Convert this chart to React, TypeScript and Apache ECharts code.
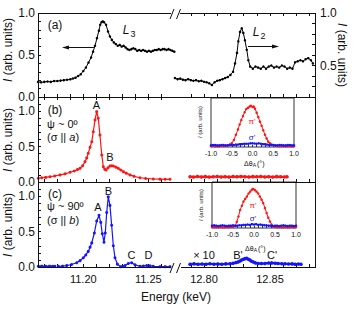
import React, { useEffect, useRef } from "react";
import * as echarts from "echarts";

const FONT = "'Liberation Sans', Arial, Helvetica, sans-serif";
const RED = "#ff1414";
const BLUE = "#1414ff";
const INK = "#111";

// ---- data: [energy (keV), intensity] ----
const aL3: [number, number][] = [
  [11.1652, 0.18], [11.1675, 0.175], [11.17, 0.18], [11.1725, 0.185], [11.175, 0.18], [11.1775, 0.19],
  [11.18, 0.19], [11.1825, 0.195], [11.185, 0.2], [11.1875, 0.205], [11.19, 0.21], [11.192, 0.22],
  [11.194, 0.23], [11.196, 0.25], [11.198, 0.27], [11.2, 0.31], [11.202, 0.35], [11.204, 0.41],
  [11.206, 0.47], [11.2075, 0.54], [11.209, 0.61], [11.2105, 0.7], [11.212, 0.79], [11.213, 0.86],
  [11.214, 0.89], [11.215, 0.9], [11.216, 0.89], [11.2175, 0.86], [11.219, 0.78], [11.2205, 0.72],
  [11.222, 0.68], [11.2235, 0.65], [11.225, 0.63], [11.2265, 0.61], [11.228, 0.62], [11.2295, 0.6],
  [11.231, 0.61], [11.2325, 0.59], [11.234, 0.57], [11.2355, 0.56], [11.237, 0.57], [11.2385, 0.58],
  [11.24, 0.57], [11.2415, 0.55], [11.243, 0.56], [11.2445, 0.55], [11.246, 0.56], [11.2475, 0.55],
  [11.249, 0.54], [11.2505, 0.55], [11.252, 0.54], [11.2535, 0.55], [11.255, 0.56], [11.2565, 0.56],
  [11.258, 0.57], [11.2595, 0.56], [11.261, 0.57], [11.2625, 0.57], [11.264, 0.56], [11.2655, 0.57],
  [11.267, 0.56], [11.2685, 0.55], [11.27, 0.54],
];
const aL2: [number, number][] = [
  [12.778, 0.38], [12.78, 0.37], [12.782, 0.375], [12.784, 0.365], [12.786, 0.36], [12.788, 0.37],
  [12.79, 0.36], [12.792, 0.355], [12.794, 0.36], [12.796, 0.35], [12.798, 0.355], [12.8, 0.345],
  [12.802, 0.34], [12.804, 0.33], [12.806, 0.315], [12.808, 0.34], [12.81, 0.355], [12.812, 0.36],
  [12.814, 0.37], [12.816, 0.38], [12.818, 0.39], [12.82, 0.41], [12.822, 0.44], [12.8235, 0.52],
  [12.825, 0.62], [12.826, 0.73], [12.8273, 0.82], [12.8286, 0.855], [12.8298, 0.81], [12.831, 0.74],
  [12.8324, 0.65], [12.8336, 0.55], [12.835, 0.49], [12.837, 0.47], [12.839, 0.49], [12.841, 0.48],
  [12.843, 0.47], [12.845, 0.49], [12.847, 0.47], [12.849, 0.49], [12.851, 0.5], [12.853, 0.48],
  [12.855, 0.49], [12.857, 0.48], [12.859, 0.5], [12.861, 0.49], [12.863, 0.47], [12.865, 0.48],
  [12.867, 0.47], [12.869, 0.53], [12.871, 0.54], [12.873, 0.55], [12.875, 0.54], [12.877, 0.56],
  [12.879, 0.57], [12.881, 0.55], [12.8825, 0.52],
];
const bLeft: [number, number][] = [
  [11.1654, 0.052], [11.168, 0.06], [11.171, 0.065], [11.1744, 0.075], [11.178, 0.085], [11.1821, 0.1],
  [11.186, 0.115], [11.1898, 0.137], [11.193, 0.155], [11.1955, 0.175], [11.1975, 0.193], [11.1995, 0.23],
  [11.2013, 0.287], [11.2026, 0.34], [11.2038, 0.405], [11.2052, 0.49], [11.2065, 0.569], [11.2077, 0.71],
  [11.209, 0.876], [11.2103, 0.993], [11.2115, 0.9], [11.2128, 0.664], [11.2142, 0.381], [11.2154, 0.216],
  [11.2165, 0.18], [11.2175, 0.17], [11.219, 0.2], [11.2205, 0.226], [11.2218, 0.23], [11.2231, 0.226],
  [11.225, 0.21], [11.2269, 0.193], [11.2288, 0.17], [11.2308, 0.146], [11.233, 0.125], [11.2359, 0.1],
  [11.239, 0.08], [11.2436, 0.06], [11.248, 0.05], [11.2538, 0.042], [11.259, 0.04], [11.263, 0.038],
  [11.2667, 0.038],
];
const bRight: [number, number][] = [
  [12.7894, 0.075], [12.792, 0.07], [12.795, 0.078], [12.798, 0.072], [12.801, 0.076], [12.804, 0.07],
  [12.807, 0.074], [12.81, 0.078], [12.813, 0.072], [12.816, 0.075], [12.819, 0.07], [12.822, 0.077],
  [12.825, 0.073], [12.828, 0.079], [12.831, 0.074], [12.834, 0.071], [12.837, 0.076], [12.84, 0.073],
  [12.843, 0.078], [12.846, 0.072], [12.849, 0.075], [12.852, 0.07], [12.855, 0.076], [12.858, 0.073],
  [12.861, 0.071], [12.8629, 0.074],
];
const cLeftPre: [number, number][] = [
  [11.1654, 0.01], [11.168, 0.012], [11.171, 0.01], [11.174, 0.012], [11.1765, 0.01], [11.1782, 0.01],
];
const cLeft: [number, number][] = [
  [11.1808, 0.01], [11.184, 0.012], [11.1872, 0.02], [11.191, 0.035], [11.1949, 0.06], [11.1975, 0.09],
  [11.2, 0.13], [11.2019, 0.17], [11.2038, 0.22], [11.2052, 0.28], [11.2065, 0.34], [11.2085, 0.48],
  [11.2103, 0.65], [11.2121, 0.73], [11.2134, 0.63], [11.2146, 0.47], [11.2159, 0.35], [11.2169, 0.48],
  [11.218, 0.77], [11.2192, 0.99], [11.2205, 0.87], [11.2218, 0.59], [11.2231, 0.3], [11.2244, 0.13],
  [11.2262, 0.04], [11.2288, 0.005], [11.2305, 0.01], [11.2321, 0.02], [11.2346, 0.05], [11.2372, 0.06],
  [11.2398, 0.03], [11.2436, 0.01], [11.2462, 0.015], [11.2488, 0.02], [11.2513, 0.018], [11.2538, 0.01],
  [11.259, 0.005], [11.263, 0.005], [11.2667, 0.005],
];
const cRight: [number, number][] = [
  [12.7894, 0.04], [12.7925, 0.045], [12.7955, 0.038], [12.7985, 0.042], [12.8015, 0.04], [12.8045, 0.046],
  [12.8075, 0.04], [12.8105, 0.043], [12.8135, 0.039], [12.8165, 0.044], [12.8197, 0.046], [12.822, 0.052],
  [12.8242, 0.062], [12.8258, 0.072], [12.8273, 0.085], [12.8285, 0.098], [12.8298, 0.11], [12.831, 0.118],
  [12.8323, 0.122], [12.8336, 0.11], [12.8348, 0.098], [12.836, 0.082], [12.8373, 0.07], [12.839, 0.058],
  [12.8409, 0.05], [12.8435, 0.048], [12.8462, 0.05], [12.849, 0.055], [12.8513, 0.058], [12.854, 0.054],
  [12.8561, 0.05], [12.859, 0.046], [12.8614, 0.045], [12.864, 0.042], [12.8667, 0.044], [12.869, 0.04],
  [12.8715, 0.042], [12.8735, 0.04],
];
// ---- inset data: [Δθ_A (deg), intensity] ----
const insBPi: [number, number][] = [
  [-1.0, 0.02], [-0.95, 0.03], [-0.9, 0.02], [-0.85, 0.025], [-0.8, 0.02], [-0.75, 0.03], [-0.7, 0.025],
  [-0.65, 0.03], [-0.6, 0.04], [-0.55, 0.06], [-0.5, 0.09], [-0.45, 0.17], [-0.4, 0.3], [-0.35, 0.43],
  [-0.31, 0.55], [-0.27, 0.66], [-0.23, 0.76], [-0.19, 0.85], [-0.15, 0.93], [-0.11, 0.96], [-0.07, 0.99],
  [-0.04, 1.01], [0.0, 0.98], [0.03, 0.99], [0.06, 0.94], [0.1, 0.84], [0.14, 0.73], [0.18, 0.62],
  [0.22, 0.52], [0.26, 0.41], [0.3, 0.3], [0.34, 0.21], [0.38, 0.13], [0.42, 0.09], [0.46, 0.06],
  [0.5, 0.05], [0.55, 0.04], [0.6, 0.03], [0.65, 0.025], [0.7, 0.02], [0.75, 0.025], [0.8, 0.02],
  [0.85, 0.02], [0.9, 0.025], [0.95, 0.02], [1.0, 0.02],
];
const insBSigma: [number, number][] = [
  [-1.0, 0.04], [-0.95, 0.05], [-0.9, 0.05], [-0.85, 0.04], [-0.8, 0.04], [-0.75, 0.05], [-0.7, 0.05],
  [-0.65, 0.04], [-0.6, 0.04], [-0.55, 0.05], [-0.5, 0.05], [-0.45, 0.05], [-0.4, 0.06], [-0.35, 0.06],
  [-0.3, 0.07], [-0.25, 0.07], [-0.2, 0.08], [-0.15, 0.08], [-0.1, 0.08], [-0.05, 0.09], [0.0, 0.09],
  [0.05, 0.085], [0.1, 0.08], [0.15, 0.09], [0.2, 0.08], [0.25, 0.07], [0.3, 0.07], [0.35, 0.06],
  [0.4, 0.05], [0.45, 0.05], [0.5, 0.05], [0.55, 0.04], [0.6, 0.04], [0.65, 0.05], [0.7, 0.05],
  [0.75, 0.04], [0.8, 0.04], [0.85, 0.05], [0.9, 0.05], [0.95, 0.04], [1.0, 0.04],
];
const insCPi: [number, number][] = [
  [-1.0, 0.02], [-0.95, 0.025], [-0.9, 0.02], [-0.85, 0.02], [-0.8, 0.025], [-0.75, 0.02], [-0.7, 0.02],
  [-0.65, 0.025], [-0.6, 0.02], [-0.55, 0.03], [-0.5, 0.03], [-0.45, 0.05], [-0.41, 0.16], [-0.37, 0.3],
  [-0.33, 0.47], [-0.29, 0.58], [-0.25, 0.69], [-0.21, 0.76], [-0.17, 0.82], [-0.13, 0.9], [-0.09, 0.95],
  [-0.05, 1.0], [-0.02, 1.02], [0.02, 0.99], [0.06, 0.95], [0.1, 0.9], [0.14, 0.82], [0.18, 0.74],
  [0.22, 0.65], [0.26, 0.52], [0.3, 0.39], [0.34, 0.27], [0.38, 0.17], [0.42, 0.09], [0.46, 0.04],
  [0.5, 0.03], [0.55, 0.02], [0.6, 0.025], [0.65, 0.02], [0.7, 0.02], [0.75, 0.025], [0.8, 0.02],
  [0.85, 0.02], [0.9, 0.025], [0.95, 0.02], [1.0, 0.02],
];
const insCSigma: [number, number][] = [
  [-1.0, 0.06], [-0.95, 0.07], [-0.9, 0.06], [-0.85, 0.05], [-0.8, 0.06], [-0.75, 0.07], [-0.7, 0.06],
  [-0.65, 0.05], [-0.6, 0.06], [-0.55, 0.06], [-0.5, 0.07], [-0.45, 0.06], [-0.4, 0.06], [-0.35, 0.07],
  [-0.3, 0.07], [-0.25, 0.08], [-0.2, 0.08], [-0.15, 0.09], [-0.1, 0.08], [-0.05, 0.1], [0.0, 0.09],
  [0.05, 0.1], [0.1, 0.08], [0.15, 0.09], [0.2, 0.08], [0.25, 0.07], [0.3, 0.07], [0.35, 0.06],
  [0.4, 0.06], [0.45, 0.05], [0.5, 0.06], [0.55, 0.06], [0.6, 0.05], [0.65, 0.06], [0.7, 0.07],
  [0.75, 0.06], [0.8, 0.05], [0.85, 0.06], [0.9, 0.06], [0.95, 0.05], [1.0, 0.06],
];

// ---- ticks / labels ----
const leftTicks = [11.17, 11.18, 11.19, 11.2, 11.21, 11.22, 11.23, 11.24, 11.25, 11.26];
const rightTicks = [12.79, 12.8, 12.81, 12.82, 12.83, 12.84, 12.85, 12.86, 12.87, 12.88];
const leftLabels = [11.2, 11.25];
const rightLabels = [12.8, 12.85];
const yTicksA = [0.1, 0.2, 0.3, 0.4, 0.5, 0.6, 0.7, 0.8, 0.9];
const yTicksBC = [0.1, 0.2, 0.3, 0.4, 0.5, 0.6, 0.7, 0.8, 0.9, 1.0, 1.1];
const yLabels = [0, 0.5, 1.0];
const yTicksARight = [0.3, 0.4, 0.5, 0.6, 0.7, 0.8, 0.9];
const yLabelsARight = [0.5, 1.0];
const insTicks = [-0.9, -0.8, -0.7, -0.6, -0.5, -0.4, -0.3, -0.2, -0.1, 0, 0.1, 0.2, 0.3, 0.4, 0.5, 0.6, 0.7, 0.8, 0.9];
const insLabels = [-1, -0.5, 0, 0.5, 1];

// ---- layout ----
const X0 = 38, X1 = 315;
const LW = 139, RX = 174, RW = 141;
const LMIN = 11.16515, LMAX = 11.16515 + 139 / 1300;
const RMIN = 12.777273, RMAX = 12.884091;
const ROWS = [
  { top: 13, h: 84 },
  { top: 97, h: 85 },
  { top: 182, h: 85 },
];

export default function App() {
  const ref = useRef<HTMLDivElement>(null);
  useEffect(() => {
    if (!ref.current) return;
    const chart = echarts.init(ref.current, undefined, { renderer: "svg" });

    const grids: any[] = [];
    ROWS.forEach((r) => {
      grids.push({ left: X0, top: r.top, width: LW, height: r.h });
      grids.push({ left: RX, top: r.top, width: RW, height: r.h });
    });
    grids.push({ left: 211, top: 98, width: 83, height: 49, show: true, backgroundColor: "#fff", borderColor: "#333", borderWidth: 1 });
    grids.push({ left: 212, top: 182, width: 84, height: 46, show: true, backgroundColor: "#fff", borderColor: "#333", borderWidth: 1 });

    const tickAx = (grid: number, side: "L" | "R", pos: string, labels: boolean) => ({
      type: "value",
      gridIndex: grid,
      position: pos,
      min: side === "L" ? LMIN : RMIN,
      max: side === "L" ? LMAX : RMAX,
      axisLine: { show: false },
      splitLine: { show: false },
      axisTick: { show: true, inside: true, length: 3, customValues: side === "L" ? leftTicks : rightTicks, lineStyle: { color: INK } },
      axisLabel: labels
        ? { show: true, customValues: side === "L" ? leftLabels : rightLabels, formatter: (v: number) => v.toFixed(2), fontFamily: FONT, fontSize: 11, color: INK, margin: 6 }
        : { show: false },
    });

    const xAxes: any[] = [
      tickAx(0, "L", "top", false), // 0
      tickAx(0, "L", "bottom", false), // 1
      tickAx(1, "R", "top", false), // 2
      tickAx(1, "R", "bottom", false), // 3
      tickAx(2, "L", "bottom", false), // 4
      tickAx(3, "R", "bottom", false), // 5
      tickAx(4, "L", "bottom", true), // 6
      tickAx(5, "R", "bottom", true), // 7
    ];
    [6, 7].forEach((g) =>
      xAxes.push({
        type: "value",
        gridIndex: g,
        min: -1,
        max: 1,
        axisLine: { show: false },
        splitLine: { show: false },
        axisTick: { show: true, inside: true, length: 2, customValues: insTicks, lineStyle: { color: "#333" } },
        axisLabel: { customValues: insLabels, formatter: (v: number) => v.toFixed(1), fontFamily: FONT, fontSize: 7, color: INK, margin: 3 },
      })
    );

    const yLeft = (grid: number, max: number, ticks: number[]) => ({
      type: "value",
      gridIndex: grid,
      position: "left",
      min: 0,
      max,
      axisLine: { show: false },
      splitLine: { show: false },
      axisTick: { show: true, inside: true, length: 3, customValues: ticks, lineStyle: { color: INK } },
      axisLabel: { customValues: yLabels, formatter: (v: number) => v.toFixed(1), fontFamily: FONT, fontSize: 12, color: INK, margin: 3 },
    });
    const yHidden = (grid: number, min: number, max: number) => ({ type: "value", gridIndex: grid, min, max, show: false });
    const yAxes: any[] = [
      yLeft(0, 1, yTicksA),
      {
        type: "value",
        gridIndex: 1,
        position: "right",
        min: 0.2,
        max: 1.0,
        axisLine: { show: false },
        splitLine: { show: false },
        axisTick: { show: true, inside: true, length: 3, customValues: yTicksARight, lineStyle: { color: INK } },
        axisLabel: { customValues: yLabelsARight, formatter: (v: number) => v.toFixed(1), fontFamily: FONT, fontSize: 12, color: INK, margin: 5 },
      },
      yLeft(2, 1.2, yTicksBC),
      yHidden(3, 0, 1.2),
      yLeft(4, 1.2, yTicksBC),
      yHidden(5, 0, 1.2),
      yHidden(6, 0, 1.2),
      yHidden(7, 0, 1.2),
    ];

    const line = (data: [number, number][], x: number, y: number, color: string, size = 2.5, width = 1) => ({
      type: "line",
      xAxisIndex: x,
      yAxisIndex: y,
      data,
      color,
      symbol: "circle",
      symbolSize: size,
      showSymbol: true,
      lineStyle: { width, color },
      itemStyle: { color },
      clip: false,
      z: 3,
    });

    const series = [
      line(aL3, 0, 0, "#000", 2.5, 1),
      line(aL2, 2, 1, "#000", 2.5, 1),
      line(bLeft, 4, 2, RED, 3, 1.2),
      line(bRight, 5, 3, RED, 3.5, 2.2),
      line(cLeftPre, 6, 4, BLUE, 3, 1.5),
      line(cLeft, 6, 4, BLUE, 3, 1.2),
      line(cRight, 7, 5, BLUE, 3.5, 2.2),
      line(insBPi, 8, 6, RED, 2.5, 1),
      line(insBSigma, 8, 6, BLUE, 2.5, 1),
      line(insCPi, 9, 7, RED, 2.5, 1),
      line(insCSigma, 9, 7, BLUE, 2.5, 1),
    ];

    const T = (text: string, x: number, y: number, size: number, extra: any = {}) => ({
      type: "text",
      x,
      y,
      z: 100,
      style: { text, fontFamily: FONT, fontSize: size, fill: INK, align: "center", verticalAlign: "middle", ...extra },
    });
    const seg = (x1: number, y1: number, x2: number, y2: number, w = 1) => ({
      type: "line",
      z: 100,
      shape: { x1, y1, x2, y2 },
      style: { stroke: INK, lineWidth: w },
    });
    const yTitle = (x: number, y: number, rot: number, size: number) => ({
      type: "text",
      x,
      y,
      rotation: rot,
      z: 100,
      style: {
        text: "{i|I} (arb. units)",
        fontFamily: FONT,
        fontSize: size,
        fill: INK,
        align: "center",
        verticalAlign: "middle",
        rich: { i: { fontStyle: "italic", fontFamily: FONT, fontSize: size, fill: INK } },
      },
    });
    const dTheta = (x: number, y: number) => [
      T("Δθ", x, y, 7, { align: "left" }),
      T("A", x + 8.8, y + 2, 5, { align: "left" }),
      T("(°)", x + 13, y, 7, { align: "left" }),
    ];

    const graphic: any[] = [
      // frame
      seg(X0 + 0.5, 13, X0 + 0.5, 267.5),
      seg(X1 + 0.5, 13, X1 + 0.5, 267.5),
      seg(X0, 13.5, 171, 13.5),
      seg(180, 13.5, X1 + 1, 13.5),
      seg(X0, 97.5, X1 + 1, 97.5),
      seg(X0, 182.5, X1 + 1, 182.5),
      seg(X0, 267.5, 171, 267.5),
      seg(181, 267.5, X1 + 1, 267.5),
      // break marks
      seg(170, 19, 174, 9),
      seg(176.5, 19, 180.5, 9),
      seg(170, 273, 174, 263),
      seg(176.5, 273, 180.5, 263),
      // axis titles
      yTitle(8, 50, Math.PI / 2, 12),
      yTitle(8, 140, Math.PI / 2, 12),
      yTitle(8, 225, Math.PI / 2, 12),
      yTitle(342, 55, -Math.PI / 2, 12),
      T("Energy (keV)", 176, 297, 12),
      // panel a
      T("(a)", 55, 25, 12),
      T("L", 126, 30, 12, { fontStyle: "italic" }),
      T("3", 133, 34, 9),
      seg(95, 47.5, 66, 47.5),
      { type: "polygon", z: 100, shape: { points: [[62, 47.5], [69, 45.5], [69, 49.5]] }, style: { fill: INK } },
      T("L", 256, 32, 12, { fontStyle: "italic" }),
      T("2", 263, 36, 9),
      seg(248, 46.5, 275, 46.5),
      { type: "polygon", z: 100, shape: { points: [[279, 46.5], [272, 44.5], [272, 48.5]] }, style: { fill: INK } },
      // panel b
      T("(b)", 55, 110, 12),
      T("ψ ~ 0º", 47, 123.5, 11, { align: "left" }),
      {
        type: "text", x: 47, y: 137, z: 100,
        style: { text: "(σ || {i|a})", fontFamily: FONT, fontSize: 11, fill: INK, align: "left", verticalAlign: "middle", rich: { i: { fontStyle: "italic", fontFamily: FONT, fontSize: 11, fill: INK } } },
      },
      T("A", 96.5, 105, 11),
      T("B", 110, 157, 11),
      // panel c
      T("(c)", 55, 194, 12),
      T("ψ ~ 90º", 47, 205.5, 11, { align: "left" }),
      {
        type: "text", x: 47, y: 220, z: 100,
        style: { text: "(σ || {i|b})", fontFamily: FONT, fontSize: 11, fill: INK, align: "left", verticalAlign: "middle", rich: { i: { fontStyle: "italic", fontFamily: FONT, fontSize: 11, fill: INK } } },
      },
      T("A", 98, 207, 11),
      T("B", 108.5, 191, 11),
      T("C", 131.5, 254.5, 11),
      T("D", 148.5, 254.5, 11),
      T("× 10", 204, 255, 11),
      T("B'", 238, 255, 11),
      T("C'", 272, 255, 11),
      // insets
      yTitle(200, 122, Math.PI / 2, 6),
      ...dTheta(244, 163),
      T("π'", 252, 121, 8, { fill: RED }),
      T("σ'", 252, 137, 8, { fill: BLUE }),
      yTitle(201, 205, Math.PI / 2, 6),
      ...dTheta(245, 248),
      T("π'", 253, 205, 8, { fill: RED }),
      T("σ'", 253, 218, 8, { fill: BLUE }),
    ];

    chart.setOption({
      animation: false,
      backgroundColor: "#fff",
      grid: grids,
      xAxis: xAxes,
      yAxis: yAxes,
      series,
      graphic,
    });
    return () => chart.dispose();
  }, []);
  return <div ref={ref} style={{ position: "fixed", left: 0, top: 0, width: 355, height: 311 }} />;
}
